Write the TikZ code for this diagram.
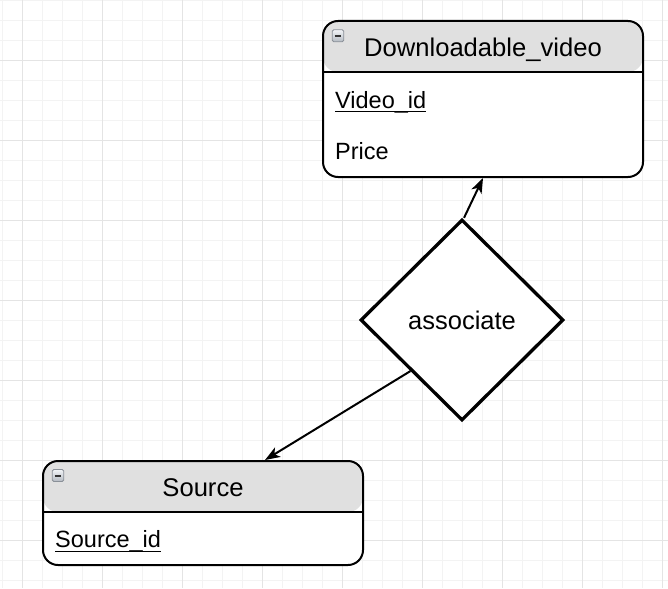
\documentclass[tikz,border=0pt]{standalone}
\usepackage{fontspec}
\setmainfont{Liberation Sans}
\usetikzlibrary{shapes.geometric,arrows.meta}
\definecolor{gridminor}{HTML}{F3F3F3}
\definecolor{gridmajor}{HTML}{E4E4E4}
\definecolor{hdr}{HTML}{E0E0E0}
\definecolor{icontop}{HTML}{F2F4F7}
\definecolor{iconbot}{HTML}{B4BAC2}
\definecolor{iconrim}{HTML}{8A9098}
\begin{document}
\begin{tikzpicture}[x=1pt,y=-1pt,
  entity/.style={draw, line width=2pt, fill=white, rounded corners=15pt, inner sep=0pt, minimum width=320pt,
    path picture={
      \fill[hdr] (path picture bounding box.north west) rectangle ([yshift=-51pt]path picture bounding box.north east);
      \draw[line width=2pt] ([yshift=-51pt]path picture bounding box.north west) -- ([yshift=-51pt]path picture bounding box.north east);
    }},
  titletext/.style={anchor=base, inner sep=0pt, font=\fontsize{25.6}{30}\selectfont},
  attrtext/.style={anchor=base west, inner sep=0pt, font=\fontsize{23.5}{28}\selectfont},
  keyline/.style={line width=1.2pt},
  rel/.style={draw, diamond, line width=3.3pt, fill=white, inner sep=0pt, minimum width=203pt, minimum height=201pt, font=\fontsize{25.5}{30}\selectfont},
  conn/.style={line width=2pt, -{Stealth[length=15pt,width=11pt,inset=4pt]}},
  icon/.style={draw=iconrim, line width=0.8pt, rounded corners=1.5pt, top color=icontop, bottom color=iconbot, minimum width=11.5pt, minimum height=12pt, inner sep=0pt},
  iconminus/.style={line width=2pt, draw=black!80}
]
\fill[white] (0,0) rectangle (668,588);
\useasboundingbox (0,0) rectangle (668,588);
% grid
\foreach \x in {2.5,22.5,...,662.5} \draw[gridminor, line width=1pt] (\x,0) -- (\x,588);
\foreach \y in {0.5,20.5,...,580.5} \draw[gridminor, line width=1pt] (0,\y) -- (668,\y);
\foreach \x in {22.5,102.5,...,662.5} \draw[gridmajor, line width=1pt] (\x,0) -- (\x,588);
\foreach \y in {60.5,140.5,...,580.5} \draw[gridmajor, line width=1pt] (0,\y) -- (668,\y);

% entity Downloadable_video
\node[entity, minimum height=156pt] (dv) at (483,99) {};
\node[icon] (dvicon) at (338,35.8) {};
\draw[iconminus] ([xshift=-3.3pt]dvicon.center) -- ([xshift=3.3pt]dvicon.center);
\node[titletext] (dvtitle) at (483,56.5) {Downloadable\_video};
\node[attrtext] (dvkey) at (335,108.3) {Video\_id};
\draw[keyline] ([yshift=-3.4pt]dvkey.base west) -- ([yshift=-3.4pt]dvkey.base east);
\node[attrtext] (dvprice) at (335,159) {Price};

% entity Source
\node[entity, minimum height=104pt] (src) at (203,513) {};
\node[icon] (srcicon) at (58,475.5) {};
\draw[iconminus] ([xshift=-3.3pt]srcicon.center) -- ([xshift=3.3pt]srcicon.center);
\node[titletext] (srctitle) at (203,496.7) {Source};
\node[attrtext] (srckey) at (55,547.7) {Source\_id};
\draw[keyline] ([yshift=-3.4pt]srckey.base west) -- ([yshift=-3.4pt]srckey.base east);

% relationship
\node[rel] (assoc) at (462,320) {associate};

% connectors
\draw[conn] ([xshift=2pt]assoc.north) -- (dv.south);
\draw[conn] (assoc.south west) -- ([xshift=62pt]src.north);
\end{tikzpicture}
\end{document}
